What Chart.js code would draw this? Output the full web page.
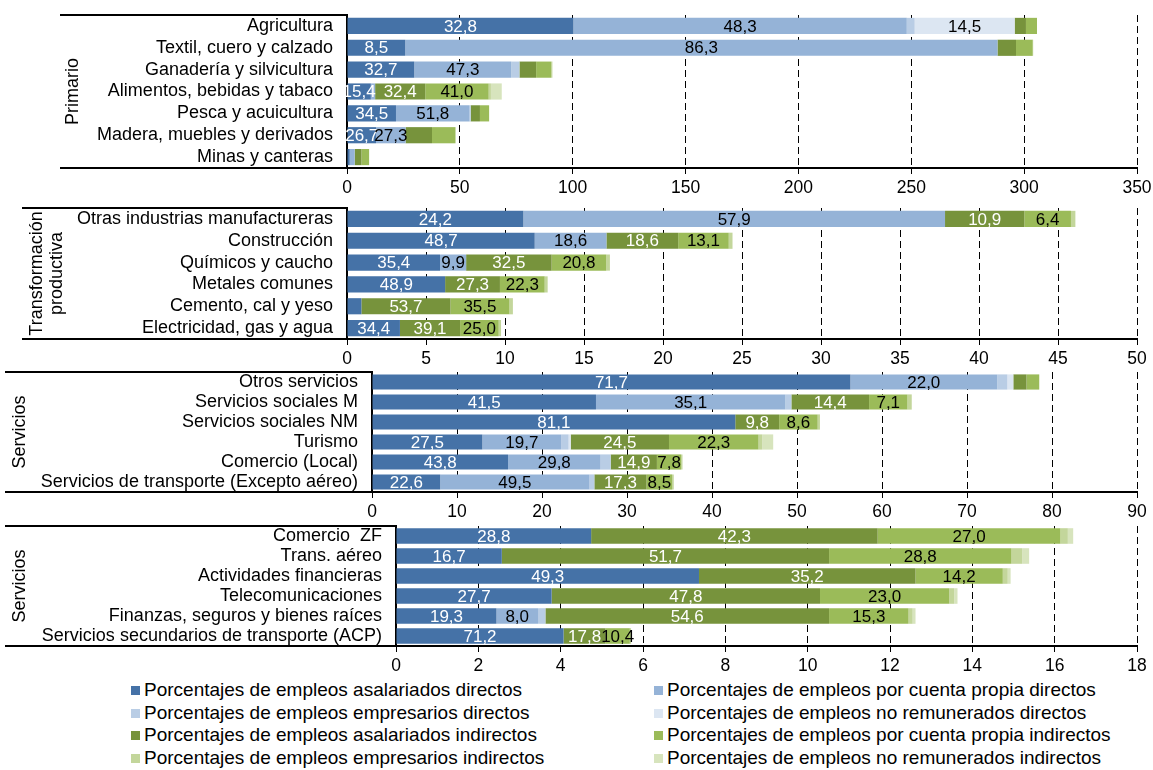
<!DOCTYPE html>
<html><head><meta charset="utf-8">
<script src="https://cdn.jsdelivr.net/npm/chart.js@4.4.0/dist/chart.umd.min.js"></script>
<style>
body{margin:0;background:#fff;width:1153px;height:770px;overflow:hidden;position:relative;font-family:"Liberation Sans",Arial,sans-serif;}
canvas{position:absolute;left:0;}
.leg{position:absolute;font-size:19px;color:#000;white-space:nowrap;line-height:22px;height:22px;}
.leg i{display:inline-block;width:9px;height:9px;margin-right:4px;vertical-align:1px;}
</style></head><body>
<canvas id="c1" width="1153" height="200" style="top:0px"></canvas>
<canvas id="c2" width="1153" height="165" style="top:200px"></canvas>
<canvas id="c3" width="1153" height="155" style="top:365px"></canvas>
<canvas id="c4" width="1153" height="155" style="top:520px"></canvas>
<div id="legend"></div>
<script>
// ---------------- DATA ----------------
const seriesNames = [
  'Porcentajes de empleos asalariados directos',
  'Porcentajes de empleos por cuenta propia directos',
  'Porcentajes de empleos empresarios directos',
  'Porcentajes de empleos no remunerados directos',
  'Porcentajes de empleos asalariados indirectos',
  'Porcentajes de empleos por cuenta propia indirectos',
  'Porcentajes de empleos empresarios indirectos',
  'Porcentajes de empleos no remunerados indirectos'
];
const seriesColors = ['#4572A7','#95B3D7','#B9CDE5','#DCE6F2','#77933C','#9BBB59','#C3D69B','#D7E4BD'];

// Panel 1 - Primario (values per category, in series order)
const primarioCats = ['Agricultura','Textil, cuero y calzado','Ganadería y silvicultura','Alimentos, bebidas y tabaco','Pesca y acuicultura','Madera, muebles y derivados','Minas y canteras'];
const primarioValues = [
  [100.3, 147.7, 3.5, 44.3, 5.0, 4.9, 0, 0],
  [25.8, 262.4, 0, 0, 8.2, 7.4, 0.2, 0],
  [29.8, 43.0, 3.6, 0, 7.4, 6.6, 0.6, 0],
  [10.56, 1.9, 0, 0, 22.2, 28.1, 1.0, 4.8],
  [21.7, 32.6, 0.5, 0, 4.1, 4.0, 0.1, 0],
  [12.84, 13.13, 0, 0, 11.7, 10.4, 0, 0],
  [1.2, 2.2, 0, 0, 3.0, 3.4, 0, 0]
];
const primarioLabels = [
  ['32,8','48,3',null,'14,5',null,null,null,null],
  ['8,5','86,3',null,null,null,null,null,null],
  ['32,7','47,3',null,null,null,null,null,null],
  ['15,4',null,null,null,'32,4','41,0',null,null],
  ['34,5','51,8',null,null,null,null,null,null],
  ['26,7','27,3',null,null,null,null,null,null],
  [null,null,null,null,null,null,null,null]
];

// Panel 2 - Transformación productiva
const transfCats = ['Otras industrias manufactureras','Construcción','Químicos y caucho','Metales comunes','Cemento, cal y yeso','Electricidad, gas y agua'];
const transfValues = [
  [11.16, 26.69, 0, 0, 5.02, 2.95, 0.28, 0],
  [11.88, 4.54, 0, 0, 4.54, 3.2, 0.24, 0],
  [5.89, 1.65, 0, 0, 5.41, 3.46, 0.23, 0],
  [6.21, 0, 0, 0, 3.47, 2.83, 0.19, 0],
  [0.91, 0, 0, 0, 5.64, 3.73, 0.22, 0],
  [3.35, 0, 0, 0, 3.81, 2.44, 0.15, 0]
];
const transfLabels = [
  ['24,2','57,9',null,null,'10,9','6,4',null,null],
  ['48,7','18,6',null,null,'18,6','13,1',null,null],
  ['35,4','9,9',null,null,'32,5','20,8',null,null],
  ['48,9',null,null,null,'27,3','22,3',null,null],
  [null,null,null,null,'53,7','35,5',null,null],
  ['34,4',null,null,null,'39,1','25,0',null,null]
];

// Panel 3 - Servicios
const servCats = ['Otros servicios','Servicios sociales M','Servicios sociales NM','Turismo','Comercio (Local)','Servicios de transporte (Excepto aéreo)'];
const servValues = [
  [56.28, 17.27, 1.2, 0.7, 1.55, 1.5, 0, 0],
  [26.35, 22.29, 0.7, 0, 9.14, 4.51, 0.51, 0],
  [42.74, 0, 0, 0, 5.16, 4.53, 0.27, 0],
  [12.98, 9.30, 0.85, 0.25, 11.56, 10.53, 0.45, 1.28],
  [16.0, 10.89, 1.19, 0, 5.44, 2.85, 0.16, 0],
  [8.02, 17.57, 0.57, 0, 6.14, 3.02, 0.18, 0]
];
const servLabels = [
  ['71,7','22,0',null,null,null,null,null,null],
  ['41,5','35,1',null,null,'14,4','7,1',null,null],
  ['81,1',null,null,null,'9,8','8,6',null,null],
  ['27,5','19,7',null,null,'24,5','22,3',null,null],
  ['43,8','29,8',null,null,'14,9','7,8',null,null],
  ['22,6','49,5',null,null,'17,3','8,5',null,null]
];

// Panel 4 - Servicios
const serv2Cats = ['Comercio  ZF','Trans. aéreo','Actividades financieras','Telecomunicaciones','Finanzas, seguros y bienes raíces','Servicios secundarios de transporte (ACP)'];
const serv2Values = [
  [4.74, 0, 0, 0, 6.96, 4.44, 0.18, 0.13],
  [2.57, 0, 0, 0, 7.95, 4.43, 0.26, 0.17],
  [7.36, 0, 0, 0, 5.26, 2.12, 0.12, 0.07],
  [3.78, 0, 0, 0, 6.52, 3.14, 0.12, 0.08],
  [2.44, 1.01, 0.18, 0, 6.89, 1.93, 0.10, 0.07],
  [4.07, 0, 0, 0, 1.02, 0.59, 0.03, 0]
];
const serv2Labels = [
  ['28,8',null,null,null,'42,3','27,0',null,null],
  ['16,7',null,null,null,'51,7','28,8',null,null],
  ['49,3',null,null,null,'35,2','14,2',null,null],
  ['27,7',null,null,null,'47,8','23,0',null,null],
  ['19,3','8,0',null,null,'54,6','15,3',null,null],
  ['71,2',null,null,null,'17,8','10,4',null,null]
];

const axisMax = [350, 50, 90, 18];
const axisStep = [50, 5, 10, 2];
const groupTitles = [['Primario'], ['Transformación','productiva'], ['Servicios'], ['Servicios']];

// ---------------- LAYOUT ----------------
const FONT = '"Liberation Sans", Arial, sans-serif';
const layouts = [
  {id:'c1', padTop:15, padBottom:2, xh:30, yw:347, lineLeft:60, gx:73, barPct:0.74},
  {id:'c2', padTop:8,  padBottom:0, xh:26, yw:347, lineLeft:22, gx:47, barPct:0.74},
  {id:'c3', padTop:7,  padBottom:0, xh:28, yw:372, lineLeft:5,  gx:20, barPct:0.76},
  {id:'c4', padTop:6,  padBottom:0, xh:29, yw:396, lineLeft:5,  gx:20, barPct:0.78}
];
const panelCats = [primarioCats, transfCats, servCats, serv2Cats];
const panelValues = [primarioValues, transfValues, servValues, serv2Values];
const panelLabels = [primarioLabels, transfLabels, servLabels, serv2Labels];

const decoPlugin = {
  id: 'deco',
  afterDraw(chart, args, o) {
    const {ctx, chartArea: a} = chart;
    ctx.save();
    ctx.strokeStyle = '#000';
    ctx.lineWidth = 2;
    ctx.beginPath();
    ctx.moveTo(o.lineLeft, a.top); ctx.lineTo(a.left, a.top);
    ctx.moveTo(o.lineLeft, a.bottom); ctx.lineTo(a.left, a.bottom);
    ctx.stroke();
    ctx.translate(o.gx, (a.top + a.bottom) / 2);
    ctx.rotate(-Math.PI / 2);
    ctx.font = '18px ' + FONT;
    ctx.fillStyle = '#000';
    ctx.textAlign = 'center';
    ctx.textBaseline = 'middle';
    const n = o.group.length;
    o.group.forEach((t, i) => ctx.fillText(t, 0, (i - (n - 1) / 2) * 20));
    ctx.restore();
  }
};

const segLabelPlugin = {
  id: 'segLabels',
  afterDatasetsDraw(chart, args, o) {
    const ctx = chart.ctx;
    ctx.save();
    ctx.font = '17px ' + FONT;
    ctx.textAlign = 'center';
    ctx.textBaseline = 'middle';
    chart.data.datasets.forEach((ds, di) => {
      const meta = chart.getDatasetMeta(di);
      meta.data.forEach((bar, i) => {
        const t = o.labels[i][di];
        if (t == null) return;
        ctx.fillStyle = (di === 0 || di === 4) ? '#fff' : '#000';
        ctx.fillText(t, (bar.x + bar.base) / 2, bar.y + 1);
      });
    });
    ctx.restore();
  }
};

layouts.forEach((L, p) => {
  const rows = panelValues[p];
  const datasets = seriesNames.map((name, si) => ({
    label: name,
    data: rows.map(r => r[si]),
    backgroundColor: seriesColors[si],
    borderWidth: 0,
    barPercentage: L.barPct,
    categoryPercentage: 1
  }));
  new Chart(document.getElementById(L.id), {
    type: 'bar',
    data: { labels: panelCats[p], datasets },
    plugins: [decoPlugin, segLabelPlugin],
    options: {
      indexAxis: 'y',
      responsive: false,
      animation: false,
      layout: { padding: { top: L.padTop, bottom: L.padBottom, left: 0, right: 16 } },
      plugins: {
        legend: { display: false },
        tooltip: { enabled: false },
        deco: { lineLeft: L.lineLeft, gx: L.gx, group: groupTitles[p] },
        segLabels: { labels: panelLabels[p] }
      },
      scales: {
        x: {
          type: 'linear', stacked: true, min: 0, max: axisMax[p],
          ticks: { stepSize: axisStep[p], color: '#000', font: { size: 17.5, family: FONT }, padding: 4, maxRotation: 0, autoSkip: false },
          grid: { color: '#000', lineWidth: 1, drawTicks: true, tickLength: 6, tickColor: '#000', tickBorderDash: [] },
          border: { display: true, color: '#000', width: 2, dash: [7, 4] },
          afterFit(s) { s.height = L.xh; s.paddingLeft = 0; s.paddingRight = 0; }
        },
        y: {
          type: 'category', stacked: true,
          ticks: { color: '#000', font: { size: 18, family: FONT }, padding: 14, autoSkip: false },
          grid: { display: false, drawTicks: false },
          border: { display: true, color: '#000', width: 2 },
          afterFit(s) { s.width = L.yw; s.paddingTop = 0; s.paddingBottom = 0; }
        }
      }
    }
  });
});

// Legend (HTML, 2 columns x 4 rows)
const legendRowY = [690, 712.5, 735, 757.5];
const legendColX = [131, 654];
const lg = document.getElementById('legend');
seriesNames.forEach((name, i) => {
  const d = document.createElement('div');
  d.className = 'leg';
  d.style.left = legendColX[i % 2] + 'px';
  d.style.top = (legendRowY[Math.floor(i / 2)] - 11) + 'px';
  d.innerHTML = '<i style="background:' + seriesColors[i] + '"></i>' + name;
  lg.appendChild(d);
});
</script>
</body></html>
